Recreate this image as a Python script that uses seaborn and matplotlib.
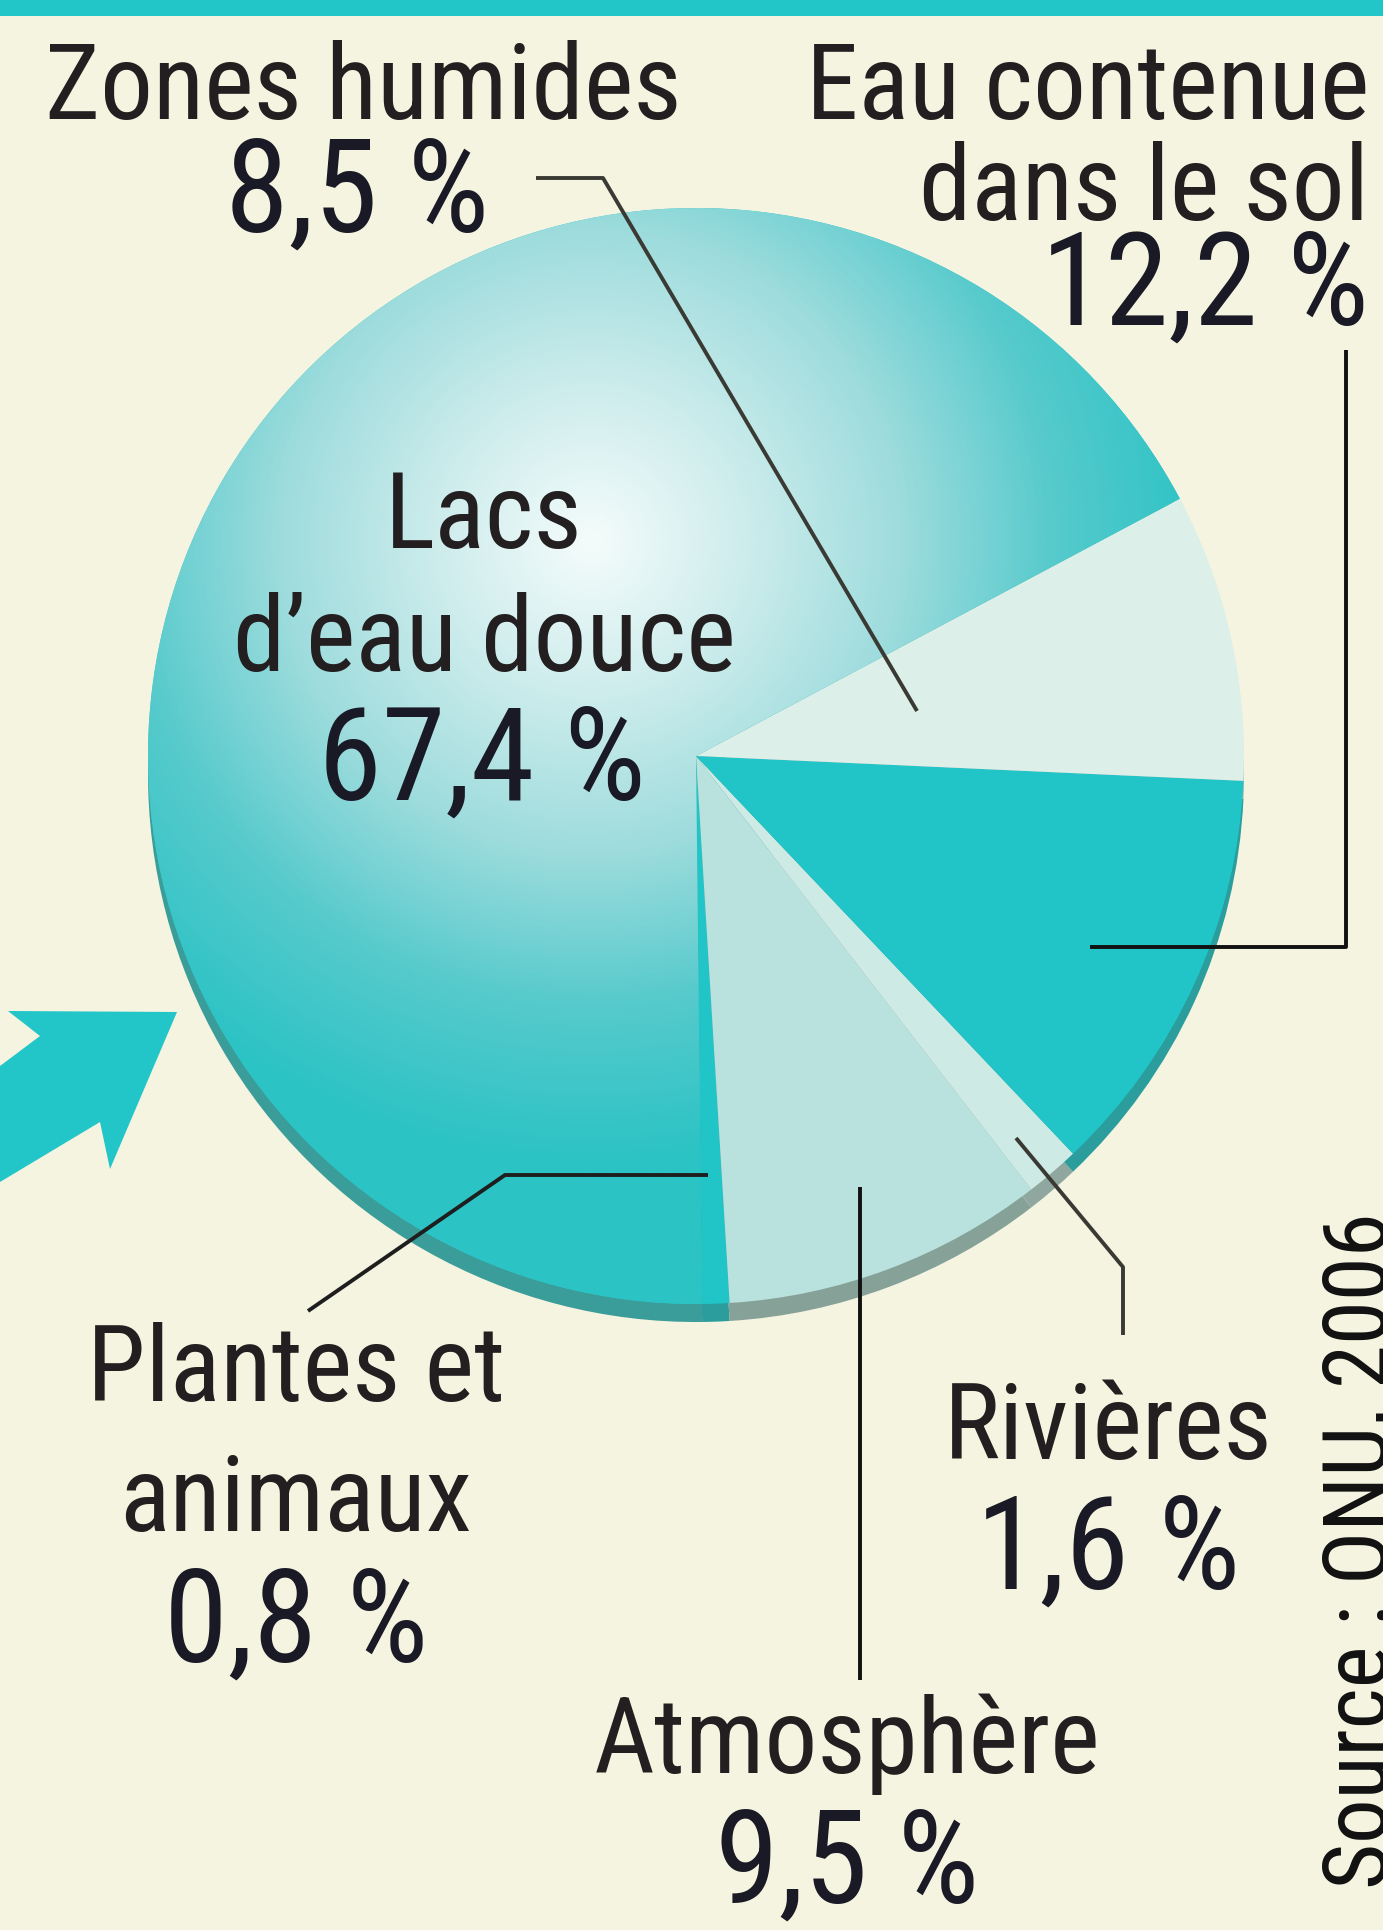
import numpy as np
import seaborn as sns
import matplotlib.pyplot as plt
from matplotlib import font_manager
from matplotlib.font_manager import FontProperties
from matplotlib.patches import Polygon

# données (ordre de tracé du camembert)
categories = ["Lacs d'eau douce", "Plantes et animaux", "Atmosphère",
              "Rivières", "Eau contenue dans le sol", "Zones humides"]
shares = [67.4, 0.8, 9.5, 1.6, 12.2, 8.5]
label_lines = [["Lacs", "d’eau douce"], ["Plantes et", "animaux"], ["Atmosphère"],
               ["Rivières"], ["Eau contenue", "dans le sol"], ["Zones humides"]]
source = "Source : ONU, 2006"

# mise en page (pixels de la figure)
W, H = 1383, 1931
CX, CY, R = 696, 757, 548
START = -28.0
slice_colors = ["#2ec4c6", "#22c5c7", "#b9e1dd", "#cdeae5", "#22c5c7", "#dcefe8"]
shadow_colors = ["#3a9d99", "#2a9d9c", "#86a298", "#8fa79e", "#2a9d9c", "#9bb5ad"]
# x, alignement, lignes de base du libellé, ligne de base du pourcentage, x du pourcentage
text_pos = [
    (484, "center", [548, 671], 800, 482),
    (296, "center", [1401, 1531], 1662, 296),
    (847, "center", [1773], 1903, 847),
    (1108, "center", [1459], 1589, 1108),
    (1369, "right", [119, 220], 325, 1369),
    (363, "center", [119], 232, 357),
]
leaders = [
    [(536, 179), (603, 179), (917, 712)],
    [(1346, 351), (1346, 948), (1090, 948)],
    [(308, 1312), (505, 1176), (708, 1176)],
    [(1123, 1336), (1123, 1268), (1016, 1139)],
    [(860, 1188), (860, 1681)],
]
leader_colors = ["#3a3a34", "#111111", "#1e1e1e", "#3a3a34", "#111111"]

sns.set_theme(style="white")
plt.rcParams["font.family"] = ["DejaVu Sans"]

# police étroite si disponible
fp, k = None, 0.8
prefs = [("Liberation Sans Narrow", 1.0), ("Roboto Condensed", 1.0),
         ("Open Sans Condensed", 1.0), ("DejaVu Sans", 0.9)]
for name, scale in prefs:
    hits = [f for f in font_manager.fontManager.ttflist
            if f.name == name and f.weight in (400, "normal", "regular")
            and f.style == "normal"
            and (name != "DejaVu Sans" or f.stretch in ("condensed", "semi-condensed"))]
    if hits:
        fp, k = FontProperties(fname=hits[0].fname), scale
        break
if fp is None:
    fp = FontProperties(family="DejaVu Sans")
fs_label, fs_pct = 76 * k, 93 * k

bg = "#f5f4e1"
fig = plt.figure(figsize=(W / 100, H / 100), dpi=100, facecolor=bg)
ax = fig.add_axes([0, 0, 1, 1])
ax.set_facecolor(bg)

# bord inférieur (effet 3D)
ax.pie(shares, center=(CX, CY + 18), radius=R, colors=shadow_colors,
       counterclock=False, startangle=START, wedgeprops=dict(linewidth=0))
wedges, _ = ax.pie(shares, center=(CX, CY), radius=R, colors=slice_colors,
                   counterclock=False, startangle=START,
                   wedgeprops=dict(linewidth=0))

# dégradé radial de la grande part
xs = np.linspace(CX - R, CX + R, 500)
ys = np.linspace(CY - R, CY + R, 500)
gx, gy = np.meshgrid(xs, ys)
d = np.hypot(gx - 591, gy - 542) / 620
cmap = sns.blend_palette(["#f4fcfb", "#cdecec", "#9edcdd", "#56cacc", "#2cc3c5"], as_cmap=True)
im = ax.imshow(np.clip(d, 0, 1), cmap=cmap, extent=(CX - R, CX + R, CY + R, CY - R),
               origin="upper", interpolation="bilinear", zorder=1.5)
im.set_clip_path(wedges[0])

# bandeau du haut et flèche
ax.add_patch(plt.Rectangle((0, 0), W, 17, color="#22c5c8", lw=0, zorder=3))
ax.add_patch(Polygon([(8, 1012), (177, 1013), (110, 1170), (100, 1123), (0, 1183),
                      (0, 1067), (40, 1037)], closed=True, color="#22c5c8", lw=0, zorder=3))

for pts, c in zip(leaders, leader_colors):
    px, py = zip(*pts)
    ax.plot(px, py, color=c, lw=2.8, zorder=4, solid_capstyle="butt")

tc = "#231f20"
for lines, v, (x, ha, bases, pbase, px) in zip(label_lines, shares, text_pos):
    for line, yb in zip(lines, bases):
        ax.text(x, yb, line, ha=ha, va="baseline", fontproperties=fp,
                fontsize=fs_label, color=tc, zorder=5)
    pct = f"{v:.1f} %".replace(".", ",")
    ax.text(px, pbase, pct, ha=ha, va="baseline", fontproperties=fp,
            fontsize=fs_pct, color="#1a1a26", zorder=5)

ax.text(1320, 1212, source, rotation=90, ha="left", va="top", fontproperties=fp,
        fontsize=64 * k, color="#111111", zorder=5)

ax.set_xlim(0, W)
ax.set_ylim(H, 0)
ax.set_aspect("equal")
ax.axis("off")
fig.savefig("out.png", dpi=100, facecolor=bg)
